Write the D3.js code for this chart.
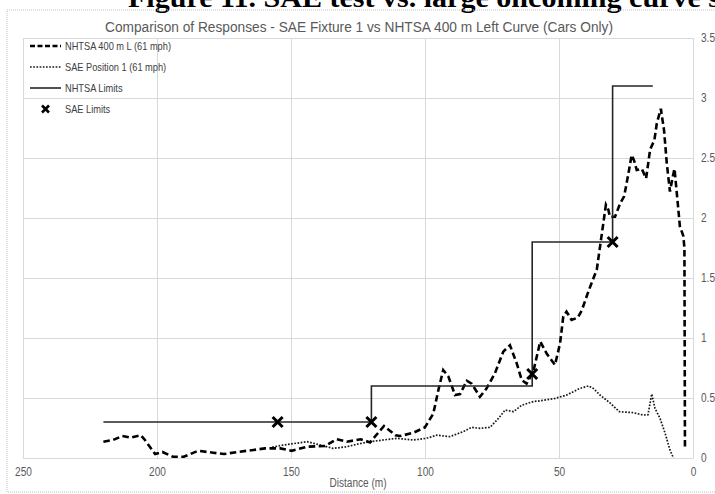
<!DOCTYPE html>
<html><head><meta charset="utf-8">
<script src="https://cdn.jsdelivr.net/npm/d3@7"></script>
<style>body{margin:0;background:#fff;overflow:hidden}svg{display:block}</style>
</head><body>
<svg id="c" width="715" height="494"></svg>
<script>
// ---- data ----
const figureTitle = "Figure 11. SAE test vs. large oncoming curve s";
const chartTitle = "Comparison of Responses - SAE Fixture 1 vs NHTSA 400 m Left Curve (Cars Only)";
const xTicks = [250, 200, 150, 100, 50, 0];
const yTicks = [0, 0.5, 1, 1.5, 2, 2.5, 3, 3.5];
const seriesNames = ["NHTSA 400 m L (61 mph)", "SAE Position 1 (61 mph)", "NHTSA Limits", "SAE Limits"];

const nhtsaDist = [220,216.4,213,210,206,204.5,200.7,198,194,190,184.7,179,175,170,164,159.7,154,149.8,144,137.3,133,129.2,124,120.5,115.3,111,109.3,104.4,100,96.9,95,93.2,91.3,88.8,86.9,84.4,82.6,79.5,77,73.9,70.8,68.3,65.8,63.9,62.1,59.6,57,54.6,51.5,49.6,48.4,47.2,45.3,43,41.5,39,35.9,34,32.5,31.6,31,29.1,27.2,25.7,24.1,22.9,22,21,19.1,17.5,16,14.4,13.5,12,10.8,9.8,8.6,7.6,6.9,5.8,4.9,3.6,3.2,3];
const nhtsaVal = [0.136,0.15,0.183,0.17,0.19,0.15,0.033,0.05,0.01,0.01,0.06,0.044,0.033,0.05,0.067,0.08,0.08,0.06,0.094,0.1,0.156,0.136,0.156,0.13,0.267,0.19,0.183,0.21,0.256,0.37,0.567,0.733,0.68,0.525,0.533,0.644,0.62,0.51,0.58,0.706,0.886,0.94,0.79,0.65,0.62,0.72,0.97,0.87,0.775,0.956,1.18,1.22,1.15,1.17,1.23,1.39,1.57,1.87,2.11,2.07,2.01,2.01,2.12,2.18,2.37,2.525,2.48,2.4,2.41,2.33,2.57,2.65,2.79,2.91,2.73,2.46,2.22,2.34,2.41,2.15,1.93,1.85,1.75,0.07];

const saeDist = [157,152.9,149,144,139,134.3,129.2,124.3,120.5,115.6,110.6,104.4,99.4,95.6,90.7,85.7,82.6,79.5,75.7,72.6,70.1,67,63.9,59.6,55.9,51.5,47.1,42.2,39,37.2,34.7,31,27.5,22.3,18.6,16.8,15.4,14.2,12.3,10.4,8.6,7.3];
const saeVal = [0.09,0.108,0.12,0.136,0.108,0.08,0.094,0.12,0.136,0.15,0.164,0.15,0.164,0.19,0.178,0.22,0.256,0.247,0.256,0.33,0.4,0.386,0.44,0.47,0.48,0.497,0.525,0.58,0.6,0.58,0.525,0.46,0.386,0.378,0.358,0.36,0.533,0.414,0.33,0.206,0.067,0];

const limitDist = [220,120,120,60,60,30,30,15];
const limitVal = [0.3,0.3,0.6,0.6,1.8,1.8,3.1,3.1];

const saeLimitDist = [155,120,60,30];
const saeLimitVal = [0.3,0.3,0.7,1.8];

// ---- drawing ----
const svg = d3.select("#c");
const L = 23, R = 693, T = 38, B = 458;
const x = d3.scaleLinear().domain([250, 0]).range([L, R]);
const y = d3.scaleLinear().domain([0, 3.5]).range([B, T]);
const txt = "#595959";
const font = "'Liberation Sans','Arial',sans-serif";
const squeeze = 0.84;
function condense(sel) {
  sel.each(function () {
    const w = this.getComputedTextLength();
    d3.select(this).attr("textLength", w * squeeze).attr("lengthAdjust", "spacingAndGlyphs");
  });
}

// figure heading (cut off at top, as in the reference)
svg.append("text").attr("x", 128).attr("y", 7)
  .attr("font-family", "'Liberation Serif','Times New Roman',serif")
  .attr("font-weight", "bold").attr("font-size", 28).attr("fill", "#000")
  .attr("textLength", 592).attr("lengthAdjust", "spacingAndGlyphs")
  .text(figureTitle);

// outer chart border
svg.append("rect").attr("x", 7).attr("y", 10).attr("width", 715).attr("height", 482)
  .attr("fill", "none").attr("stroke", "#bfbfbf").attr("stroke-width", 1).attr("stroke-dasharray", "1,1");

// title
svg.append("text").attr("x", 359).attr("y", 32).attr("text-anchor", "middle")
  .attr("font-family", font).attr("font-size", 15.5).attr("fill", txt)
  .attr("textLength", 508).attr("lengthAdjust", "spacingAndGlyphs").text(chartTitle);

// gridlines
const grid = svg.append("g").attr("stroke", "#d9d9d9").attr("stroke-width", 1);
grid.selectAll(".h").data(yTicks).join("line")
  .attr("x1", L).attr("x2", R).attr("y1", d => Math.round(y(d)) + 0.5).attr("y2", d => Math.round(y(d)) + 0.5);
grid.selectAll(".v").data(xTicks).join("line")
  .attr("y1", T).attr("y2", B).attr("x1", d => Math.round(x(d)) + 0.5).attr("x2", d => Math.round(x(d)) + 0.5);

// axes
const xAxis = d3.axisBottom(x).tickValues(xTicks).tickSize(0).tickPadding(9).tickFormat(d3.format("d"));
const gx = svg.append("g").attr("transform", `translate(0,${B})`).call(xAxis);
gx.select(".domain").attr("stroke", "#d9d9d9");
gx.selectAll("text").attr("font-family", font).attr("font-size", 12).attr("fill", txt).call(condense);

const yAxis = d3.axisRight(y).tickValues(yTicks).tickSize(0).tickPadding(8).tickFormat(d => String(d));
const gy = svg.append("g").attr("transform", `translate(${R},0)`).call(yAxis);
gy.select(".domain").remove();
gy.selectAll("text").attr("font-family", font).attr("font-size", 12).attr("fill", txt).call(condense);

svg.append("text").attr("x", 358).attr("y", 487).attr("text-anchor", "middle")
  .attr("font-family", font).attr("font-size", 12).attr("fill", txt).text("Distance (m)").call(condense);

// series
const line = d3.line().x(d => x(d[0])).y(d => y(d[1]));
const nhtsa = d3.zip(nhtsaDist, nhtsaVal);
const sae = d3.zip(saeDist, saeVal);
const lim = d3.zip(limitDist, limitVal);
const saeLim = d3.zip(saeLimitDist, saeLimitVal);

svg.append("path").datum(sae).attr("d", line).attr("fill", "none")
  .attr("stroke", "#1a1a1a").attr("stroke-width", 1.7).attr("stroke-dasharray", "1.7,1.5");
svg.append("path").datum(nhtsa).attr("d", line).attr("fill", "none")
  .attr("stroke", "#000").attr("stroke-width", 2.6).attr("stroke-dasharray", "6.5,3.5");
svg.append("path").datum(lim).attr("d", line).attr("fill", "none")
  .attr("stroke", "#262626").attr("stroke-width", 1.6);

function xMark(g, cx, cy, s, w) {
  g.append("path").attr("d", `M${cx - s},${cy - s}L${cx + s},${cy + s}M${cx - s},${cy + s}L${cx + s},${cy - s}`)
    .attr("stroke", "#000").attr("stroke-width", w).attr("fill", "none");
}
const mk = svg.append("g");
saeLim.forEach(d => xMark(mk, x(d[0]), y(d[1]), 5, 3));

// legend
const lg = svg.append("g").attr("font-family", font).attr("font-size", 11).attr("fill", "#404040");
const ly = [46, 67, 88, 109];
lg.append("line").attr("x1", 30).attr("x2", 61).attr("y1", ly[0]).attr("y2", ly[0])
  .attr("stroke", "#000").attr("stroke-width", 2.5).attr("stroke-dasharray", "5,2.5");
lg.append("line").attr("x1", 30).attr("x2", 61).attr("y1", ly[1]).attr("y2", ly[1])
  .attr("stroke", "#1a1a1a").attr("stroke-width", 1.7).attr("stroke-dasharray", "1.7,1.5");
lg.append("line").attr("x1", 30).attr("x2", 61).attr("y1", ly[2]).attr("y2", ly[2])
  .attr("stroke", "#262626").attr("stroke-width", 1.6);
xMark(lg, 45.5, ly[3], 3.5, 2.6);
seriesNames.forEach((n, i) => {
  lg.append("text").attr("x", 65).attr("y", ly[i]).attr("dy", "0.35em").text(n).call(condense);
});
</script>
</body></html>
